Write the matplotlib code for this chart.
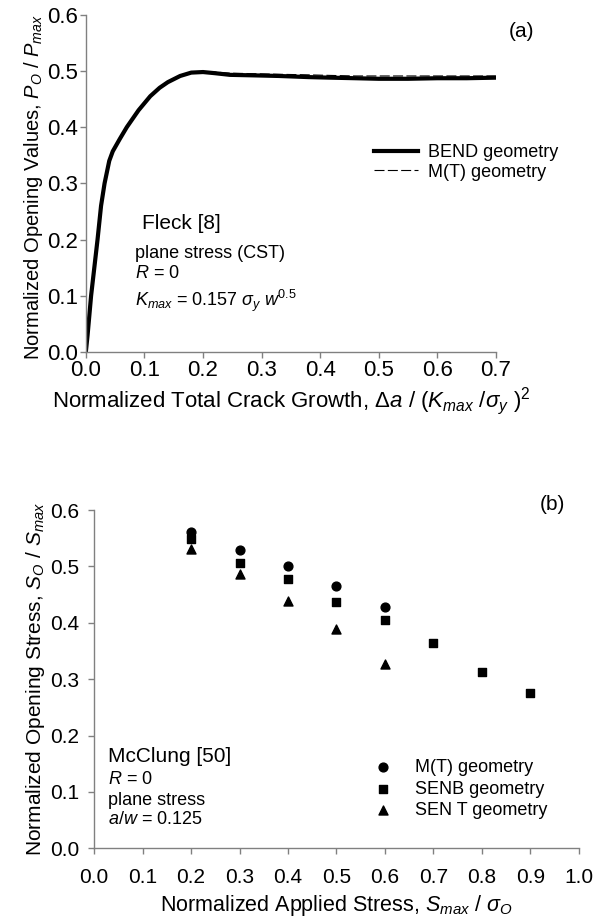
import matplotlib.pyplot as plt

plt.rcParams['font.family'] = ['Liberation Sans', 'DejaVu Sans']
plt.rcParams['mathtext.fontset'] = 'custom'
plt.rcParams['mathtext.rm'] = 'Liberation Sans'
plt.rcParams['mathtext.it'] = 'Liberation Sans:italic'

# (a) Fleck [8] - normalized opening values vs crack growth
bend_x = [0.0, 0.003, 0.009, 0.020, 0.026, 0.032, 0.040, 0.046, 0.058, 0.070, 0.090,
          0.110, 0.126, 0.140, 0.161, 0.180, 0.200, 0.220, 0.246, 0.290, 0.330, 0.380,
          0.417, 0.460, 0.500, 0.550, 0.600, 0.650, 0.700]
bend_y = [0.0, 0.030, 0.100, 0.200, 0.260, 0.300, 0.340, 0.357, 0.379, 0.400, 0.430,
          0.455, 0.470, 0.480, 0.491, 0.497, 0.498, 0.496, 0.493, 0.492, 0.491, 0.489,
          0.488, 0.487, 0.486, 0.486, 0.487, 0.487, 0.488]
mt_x = [0.0, 0.003, 0.009, 0.020, 0.026, 0.032, 0.040, 0.046, 0.058, 0.070, 0.090,
        0.110, 0.126, 0.140, 0.161, 0.180, 0.200, 0.220, 0.246, 0.290, 0.330, 0.380,
        0.417, 0.460, 0.500, 0.550, 0.600, 0.650, 0.700]
mt_y = [0.0, 0.030, 0.100, 0.200, 0.260, 0.300, 0.340, 0.357, 0.380, 0.401, 0.431,
        0.456, 0.471, 0.481, 0.492, 0.498, 0.499, 0.498, 0.496, 0.495, 0.494, 0.493,
        0.492, 0.491, 0.491, 0.491, 0.491, 0.491, 0.491]

# (b) McClung [50] - opening stress vs applied stress
mt_s = [0.2, 0.3, 0.4, 0.5, 0.6]
mt_so = [0.561, 0.529, 0.501, 0.465, 0.428]
senb_s = [0.2, 0.3, 0.4, 0.5, 0.6, 0.7, 0.8, 0.9]
senb_so = [0.549, 0.506, 0.478, 0.437, 0.405, 0.364, 0.313, 0.275]
sent_s = [0.2, 0.3, 0.4, 0.5, 0.6]
sent_so = [0.531, 0.487, 0.439, 0.389, 0.327]

fig = plt.figure(figsize=(5.96, 9.19), dpi=100)
ax1 = fig.add_axes([0.144, 0.617, 0.688, 0.367])
ax2 = fig.add_axes([0.158, 0.077, 0.813, 0.368])

spine_col = '#808080'
for ax in (ax1, ax2):
    for side in ('top', 'right'):
        ax.spines[side].set_visible(False)
    for side in ('left', 'bottom'):
        ax.spines[side].set_color(spine_col)
        ax.spines[side].set_linewidth(1.0)
    ax.tick_params(direction='out', length=4, width=1, color=spine_col)

ax1.tick_params(axis='x', labelsize=16, pad=2)
ax1.tick_params(axis='y', labelsize=16, pad=1.5)
ax2.tick_params(axis='x', labelsize=15, pad=10)
ax2.tick_params(axis='y', labelsize=15, pad=7)

# top panel
ax1.plot(bend_x, bend_y, color='black', linewidth=3, label='BEND geometry')
ax1.plot(mt_x, mt_y, color='black', linewidth=0.8, linestyle=(0, (9, 3)),
         label='M(T) geometry')
ax1.set_xlim(0, 0.7)
ax1.set_ylim(0, 0.6)
ax1.set_xticks([0.0, 0.1, 0.2, 0.3, 0.4, 0.5, 0.6, 0.7])
ax1.set_yticks([0.0, 0.1, 0.2, 0.3, 0.4, 0.5, 0.6])
ax1.xaxis.set_major_formatter(plt.FormatStrFormatter('%.1f'))
ax1.yaxis.set_major_formatter(plt.FormatStrFormatter('%.1f'))
ax1.set_xlabel(r'Normalized Total Crack Growth, $\mathit{\Delta a}$ / ($K_{max}$ /$\sigma_y$ )$^2$',
               fontsize=16)
ax1.xaxis.set_label_coords(0.5, -0.097)
ax1.set_ylabel(r'Normalized Opening Values, $P_O$ / $P_{max}$', fontsize=14.5)
ax1.yaxis.set_label_coords(-0.10, 0.49)
ax1.legend(loc='center left', bbox_to_anchor=(0.7025, 0.562), frameon=False, fontsize=13,
           borderpad=0, borderaxespad=0, handlelength=2.44, handletextpad=0.55,
           labelspacing=0.12)
ax1.text(0.744, 0.570, '(a)', fontsize=15, ha='center', va='center')
ax1.text(0.0956, 0.228, 'Fleck [8]', fontsize=15, va='center')
ax1.text(0.0837, 0.176, 'plane stress (CST)', fontsize=13, va='center')
ax1.text(0.0837, 0.139, r'$R$ = 0', fontsize=13, va='center')
ax1.text(0.0837, 0.082, r'$K_{max}$ = $0.157$ $\sigma_y$ $w^{0.5}$', fontsize=13,
         va='baseline')

# bottom panel
ax2.scatter(mt_s, mt_so, marker='o', s=40, color='black', label='M(T) geometry')
ax2.scatter(senb_s, senb_so, marker='s', s=36, color='black', label='SENB geometry')
ax2.scatter(sent_s, sent_so, marker='^', s=42, color='black', label='SEN T geometry')
ax2.set_xlim(0, 1.0)
ax2.set_ylim(0, 0.6)
ax2.set_xticks([0.0, 0.1, 0.2, 0.3, 0.4, 0.5, 0.6, 0.7, 0.8, 0.9, 1.0])
ax2.set_yticks([0.0, 0.1, 0.2, 0.3, 0.4, 0.5, 0.6])
ax2.xaxis.set_major_formatter(plt.FormatStrFormatter('%.1f'))
ax2.yaxis.set_major_formatter(plt.FormatStrFormatter('%.1f'))
ax2.set_xlabel(r'Normalized Applied Stress, $S_{max}$ / $\sigma_O$', fontsize=15.5)
ax2.xaxis.set_label_coords(0.5, -0.133)
ax2.set_ylabel(r'Normalized Opening Stress, $S_O$ / $S_{max}$', fontsize=15)
ax2.yaxis.set_label_coords(-0.097, 0.5)
ax2.legend(loc='center left', bbox_to_anchor=(0.577, 0.1746), frameon=False, fontsize=13,
           borderpad=0, borderaxespad=0, handlelength=1.0, handletextpad=1.28,
           labelspacing=0.25, scatterpoints=1)
ax2.text(0.946, 0.609, '(b)', fontsize=15, ha='center', va='center')
ax2.text(0.0289, 0.163, 'McClung [50]', fontsize=15, va='center')
ax2.text(0.0289, 0.1225, r'$R$ = 0', fontsize=13, va='center')
ax2.text(0.0289, 0.085, 'plane stress', fontsize=13, va='center')
ax2.text(0.0289, 0.0515, r'$a/w$ = 0.125', fontsize=13, va='center')

fig.savefig('out.png', dpi=100)
